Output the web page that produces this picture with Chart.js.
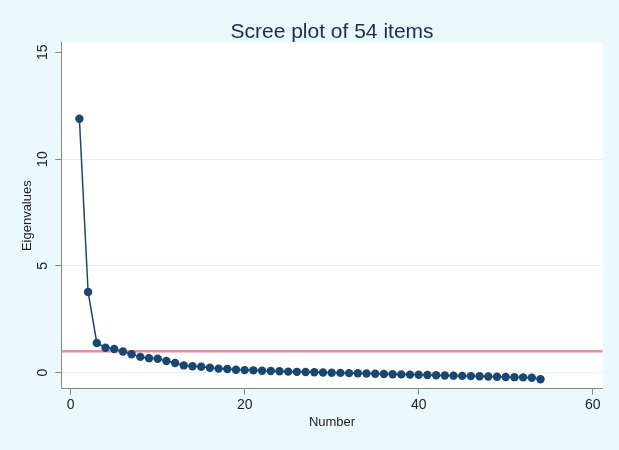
<!DOCTYPE html>
<html>
<head>
<meta charset="utf-8">
<script src="https://cdn.jsdelivr.net/npm/chart.js@4"></script>
<style>
  html, body { margin: 0; padding: 0; background: #eaf9fb; }
  #wrap { width: 619px; height: 450px; }
</style>
</head>
<body>
<div id="wrap"><canvas id="scree" width="619" height="450"></canvas></div>
<script>
// item numbers and eigenvalues
const itemNumbers = [1, 2, 3, 4, 5, 6, 7, 8, 9, 10, 11, 12, 13, 14, 15, 16, 17, 18,
  19, 20, 21, 22, 23, 24, 25, 26, 27, 28, 29, 30, 31, 32, 33, 34, 35, 36,
  37, 38, 39, 40, 41, 42, 43, 44, 45, 46, 47, 48, 49, 50, 51, 52, 53, 54];
const eigenvalues = [11.89, 3.78, 1.39, 1.17, 1.11, 0.99, 0.86, 0.74, 0.68, 0.65,
  0.55, 0.45, 0.34, 0.30, 0.28, 0.23, 0.19, 0.17, 0.14, 0.12,
  0.11, 0.09, 0.08, 0.07, 0.05, 0.04, 0.03, 0.02, 0.01, 0.00,
  -0.01, -0.02, -0.03, -0.04, -0.05, -0.06, -0.07, -0.08, -0.09, -0.10,
  -0.11, -0.12, -0.13, -0.14, -0.15, -0.16, -0.17, -0.18, -0.19, -0.20,
  -0.21, -0.22, -0.24, -0.31];
const refLine = 1; // eigenvalue = 1 cut-off
const xTicks = [0, 20, 40, 60];
const yTicks = [0, 5, 10, 15];
const xMin = -1.08, xMax = 61.15;
const yMin = -0.75, yMax = 15.45;
const chartTitle = 'Scree plot of 54 items';

const navy = '#1a476f';
const fontFamily = 'Liberation Sans, Arial, sans-serif';
const tickFont = { family: fontFamily, size: 14 };

// y tick labels are rotated like the original, so draw them by hand
const rotatedYLabels = {
  id: 'rotatedYLabels',
  afterDraw(chart) {
    const y = chart.scales.y;
    const ctx = chart.ctx;
    ctx.save();
    ctx.fillStyle = '#222';
    ctx.font = tickFont.size + 'px ' + tickFont.family;
    ctx.textAlign = 'center';
    ctx.textBaseline = 'middle';
    yTicks.forEach(v => {
      const py = y.getPixelForValue(v);
      ctx.save();
      ctx.translate(43, py);
      ctx.rotate(-Math.PI / 2);
      ctx.fillText(String(v), 0, 0);
      ctx.restore();
    });
    ctx.restore();
  }
};

// white plot region + title centred over the plot region
const plotBg = {
  id: 'plotBg',
  beforeDraw(chart) {
    const a = chart.chartArea;
    const ctx = chart.ctx;
    ctx.save();
    ctx.fillStyle = '#ffffff';
    ctx.fillRect(a.left, a.top, a.right - a.left, a.bottom - a.top);
    ctx.fillStyle = '#1c2a55';
    ctx.font = '21px ' + fontFamily;
    ctx.textAlign = 'center';
    ctx.textBaseline = 'middle';
    ctx.fillText(chartTitle, (a.left + a.right) / 2, 32);
    ctx.restore();
  }
};

const points = itemNumbers.map((n, i) => ({ x: n, y: eigenvalues[i] }));

new Chart(document.getElementById('scree'), {
  type: 'scatter',
  data: {
    datasets: [{
      label: 'Eigenvalues',
      data: points,
      showLine: true,
      borderColor: navy,
      borderWidth: 1.5,
      backgroundColor: navy,
      pointRadius: 4.2,
      pointBorderWidth: 0,
      order: 1
    }, {
      label: 'cut-off',
      data: [{ x: xMin, y: refLine }, { x: xMax, y: refLine }],
      showLine: true,
      borderColor: '#ec8ba1',
      borderWidth: 2.5,
      pointRadius: 0,
      order: 2
    }]
  },
  options: {
    responsive: false,
    animation: false,
    layout: { padding: { left: 0, right: 16.3, top: 42.7, bottom: 0 } },
    plugins: {
      legend: { display: false },
      tooltip: { enabled: false },
      title: { display: false }
    },
    scales: {
      x: {
        type: 'linear',
        min: xMin,
        max: xMax,
        afterBuildTicks: s => { s.ticks = xTicks.map(v => ({ value: v })); },
        afterFit: s => { s.height = 450 - 388.7; },
        grid: { display: true, drawOnChartArea: false, drawTicks: true, tickLength: 6, tickColor: '#888' },
        border: { color: '#888', width: 1 },
        ticks: { color: '#222', font: tickFont, padding: 2, maxRotation: 0 },
        title: {
          display: true, text: 'Number', color: '#222',
          font: { family: fontFamily, size: 13 },
          padding: { top: 0, bottom: 20 }
        }
      },
      y: {
        type: 'linear',
        min: yMin,
        max: yMax,
        afterBuildTicks: s => { s.ticks = yTicks.map(v => ({ value: v })); },
        afterFit: s => { s.width = 61.3; },
        grid: {
          color: ctx => (ctx.tick && ctx.tick.value < 15) ? '#e0f3f5' : 'rgba(0,0,0,0)',
          lineWidth: 1,
          tickLength: 6,
          tickColor: '#888'
        },
        border: { color: '#888', width: 1 },
        ticks: { display: false },
        title: {
          display: true, text: 'Eigenvalues', color: '#222',
          font: { family: fontFamily, size: 13 },
          padding: { top: 20, bottom: 0 }
        }
      }
    }
  },
  plugins: [plotBg, rotatedYLabels]
});
</script>
</body>
</html>
